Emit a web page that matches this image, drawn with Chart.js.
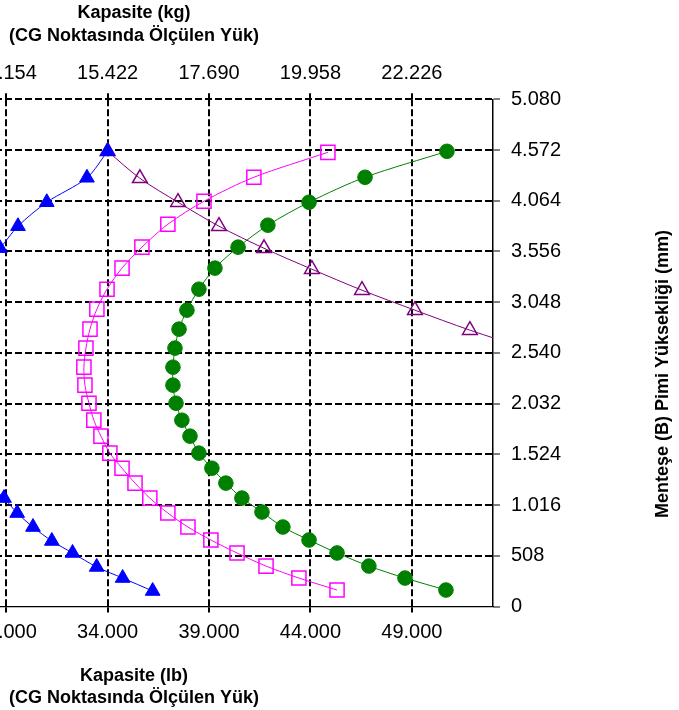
<!DOCTYPE html>
<html>
<head>
<meta charset="utf-8">
<script src="https://cdn.jsdelivr.net/npm/chart.js@4/dist/chart.umd.min.js"></script>
<style>
  html, body { margin: 0; padding: 0; background: #fff; overflow: hidden; width: 679px; height: 710px; }
  #wrap { position: absolute; left: -240px; top: 0; width: 919px; height: 710px; }
</style>
</head>
<body>
<div id="wrap"><canvas id="c" width="919" height="710"></canvas></div>
<script>
// ---- Axis ticks ----
const lbTicks = [19, 24, 29, 34, 39, 44, 49];
const lbTickLabels = ['19.000', '24.000', '29.000', '34.000', '39.000', '44.000', '49.000'];
const kgTickLabels = ['8.618', '10.886', '13.154', '15.422', '17.690', '19.958', '22.226'];
const mmTicks = [0, 508, 1016, 1524, 2032, 2540, 3048, 3556, 4064, 4572, 5080];
const mmTickLabels = ['0', '508', '1.016', '1.524', '2.032', '2.540', '3.048', '3.556', '4.064', '4.572', '5.080'];

// ---- Titles ----
const topTitle = ['Kapasite (kg)', '(CG Noktasında Ölçülen Yük)'];
const bottomTitle = ['Kapasite (lb)', '(CG Noktasında Ölçülen Yük)'];
const rightTitle = 'Menteşe (B) Pimi Yüksekliği (mm)';

// ---- Series (x: capacity lb, y: hinge pin height mm) ----
const blueLb = [36.22, 34.74, 33.46, 32.27, 31.25, 30.32, 29.54, 28.89, 28.1, 27.4, 26.8, 26.4, 26.0, 25.7, 25.6, 25.6, 25.7, 25.9, 26.3, 26.9, 27.7, 28.69, 29.58, 31.0, 32.98, 34.0];
const blueMm = [155, 285, 396, 536, 656, 796, 936, 1086, 1236, 1385, 1536, 1706, 1866, 2036, 2217, 2397, 2588, 2778, 2968, 3178, 3389, 3589, 3809, 4049, 4294, 4560];

const purpleLb = [34.0, 35.59, 37.47, 39.49, 41.71, 44.07, 46.54, 49.15, 51.86, 54.7];
const purpleMm = [4560, 4289, 4049, 3809, 3588, 3378, 3168, 2968, 2768, 2580];

const magentaLb = [45.31, 43.43, 41.81, 40.38, 39.09, 37.96, 36.97, 36.08, 35.35, 34.71, 34.11, 33.67, 33.32, 33.08, 32.88, 32.83, 32.93, 33.13, 33.47, 33.97, 34.71, 35.69, 36.97, 38.75, 41.21, 44.86];
const magentaMm = [165, 285, 405, 536, 666, 796, 936, 1086, 1236, 1385, 1536, 1706, 1866, 2036, 2217, 2397, 2588, 2778, 2978, 3178, 3389, 3599, 3829, 4059, 4299, 4549];

const greenLb = [50.68, 48.66, 46.88, 45.31, 43.93, 42.64, 41.61, 40.62, 39.83, 39.14, 38.50, 38.06, 37.66, 37.37, 37.22, 37.22, 37.32, 37.52, 37.91, 38.50, 39.29, 40.43, 41.90, 43.93, 46.69, 50.73];
const greenMm = [165, 285, 405, 536, 666, 796, 946, 1086, 1236, 1385, 1536, 1706, 1866, 2036, 2217, 2397, 2588, 2778, 2968, 3178, 3389, 3599, 3819, 4049, 4299, 4559];

function pts(xs, ys) { return xs.map((x, i) => ({ x: x, y: ys[i] })); }

const FONT = "'Liberation Sans', Arial, sans-serif";

const rightTitlePlugin = {
  id: 'rightTitle',
  afterDraw(chart) {
    const ctx = chart.ctx;
    ctx.save();
    ctx.translate(903, 374);
    ctx.rotate(-Math.PI / 2);
    ctx.font = "bold 18px " + FONT;
    ctx.fillStyle = '#000';
    ctx.textAlign = 'center';
    ctx.textBaseline = 'middle';
    ctx.fillText(rightTitle, 0, 0);
    ctx.restore();
  }
};

const GRID_DASH = [7, 3];

new Chart(document.getElementById('c'), {
  type: 'line',
  data: {
    datasets: [
      { label: 'blue', data: pts(blueLb, blueMm), borderColor: '#0000FF', backgroundColor: '#0000FF',
        borderWidth: 1, pointStyle: 'triangle', pointRadius: 8.5, pointBorderWidth: 1,
        pointBackgroundColor: '#0000FF', pointBorderColor: '#0000FF', tension: 0.3, fill: false },
      { label: 'purple', data: pts(purpleLb, purpleMm), borderColor: '#800080', backgroundColor: 'transparent',
        borderWidth: 1, pointStyle: 'triangle', pointRadius: 8.5, pointBorderWidth: 1.5,
        pointBackgroundColor: 'rgba(0,0,0,0)', pointBorderColor: '#800080', tension: 0.3, fill: false },
      { label: 'magenta', data: pts(magentaLb, magentaMm), borderColor: '#FF00FF', backgroundColor: 'transparent',
        borderWidth: 1, pointStyle: 'rect', pointRadius: 10, pointBorderWidth: 1.5,
        pointBackgroundColor: 'rgba(0,0,0,0)', pointBorderColor: '#FF00FF', tension: 0.3, fill: false },
      { label: 'green', data: pts(greenLb, greenMm), borderColor: '#008000', backgroundColor: '#008000',
        borderWidth: 1, pointStyle: 'circle', pointRadius: 7.3, pointBorderWidth: 1,
        pointBackgroundColor: '#008000', pointBorderColor: '#008000', tension: 0.3, fill: false }
    ]
  },
  options: {
    responsive: false,
    animation: false,
    devicePixelRatio: 1,
    layout: { padding: { left: 15, right: 0, top: 0, bottom: 0 } },
    plugins: { legend: { display: false }, tooltip: { enabled: false } },
    scales: {
      x: {
        type: 'linear', position: 'bottom', min: 17.6, max: 53,
        afterBuildTicks: s => { s.ticks = lbTicks.map(v => ({ value: v })); },
        afterFit: s => { s.height = 103.5; },
        ticks: {
          autoSkip: false, maxRotation: 0, padding: 8, color: '#000',
          font: { family: FONT, size: 20 },
          callback: v => lbTickLabels[lbTicks.indexOf(v)]
        },
        grid: { color: '#000', lineWidth: 2, tickColor: '#000', tickWidth: 2, tickLength: 6, tickBorderDash: [], drawOnChartArea: true },
        border: { display: true, color: '#000', width: 1.2, dash: GRID_DASH },
        title: {
          display: true, text: bottomTitle, color: '#000',
          font: { family: FONT, size: 18, weight: 'bold', lineHeight: 1.22 },
          padding: { top: 0, bottom: 1 }
        }
      },
      x2: {
        type: 'linear', position: 'top', min: 17.6, max: 53,
        afterBuildTicks: s => { s.ticks = lbTicks.map(v => ({ value: v })); },
        afterFit: s => { s.height = 99.3; },
        ticks: {
          autoSkip: false, maxRotation: 0, padding: 8, color: '#000',
          font: { family: FONT, size: 20 },
          callback: v => kgTickLabels[lbTicks.indexOf(v)]
        },
        grid: { color: '#000', lineWidth: 2, tickColor: '#000', tickWidth: 2, tickLength: 6, tickBorderDash: [], drawOnChartArea: false },
        border: { display: false },
        title: {
          display: true, text: topTitle, color: '#000',
          font: { family: FONT, size: 18, weight: 'bold', lineHeight: 1.27 },
          padding: { top: 2, bottom: 0 }
        }
      },
      y: {
        type: 'linear', position: 'right', min: 0, max: 5080,
        afterBuildTicks: s => { s.ticks = mmTicks.map(v => ({ value: v })); },
        afterFit: s => { s.width = 186; },
        ticks: {
          autoSkip: false, padding: 11, color: '#000',
          font: { family: FONT, size: 20 },
          callback: v => mmTickLabels[mmTicks.indexOf(v)]
        },
        grid: {
          color: '#000',
          lineWidth: ctx => (ctx.tick && ctx.tick.value === 0) ? 0 : 2,
          tickColor: '#000', tickWidth: 1, tickLength: 7, tickBorderDash: []
        },
        border: { display: true, color: '#000', width: 1.5, dash: GRID_DASH },
        title: { display: false }
      }
    }
  },
  plugins: [rightTitlePlugin]
});
</script>
</body>
</html>
